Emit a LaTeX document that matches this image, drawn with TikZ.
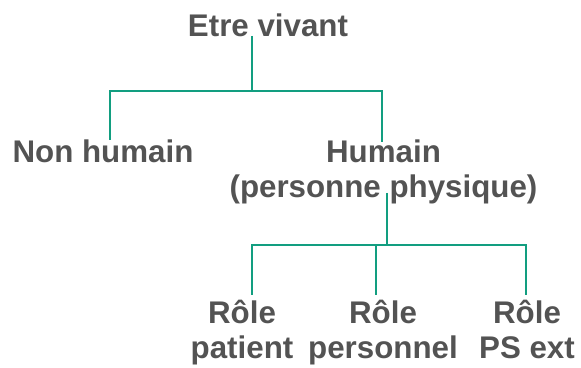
\documentclass[tikz,border=0pt]{standalone}
\usepackage{fontspec}
\setmainfont{Liberation Sans}
\definecolor{txtgray}{RGB}{83,83,83}
\definecolor{linegreen}{RGB}{18,158,128}
\begin{document}
\begin{tikzpicture}[x=1pt,y=1pt,
  lbl/.style={inner sep=0pt, anchor=base, align=center, text=txtgray,
    font=\fontsize{31.3}{35}\selectfont\bfseries},
  conn/.style={draw=linegreen, line width=1.9pt}]
\useasboundingbox (0,0) rectangle (581,367);
% nodes (base = baseline of the last line)
\node[lbl] (ev) at (268,330) {Etre vivant};
\node[lbl] (nh) at (103,204) {Non humain};
\node[lbl] (hu) at (383.5,169) {Humain\\(personne physique)};
\node[lbl] (rp) at (242,9) {Rôle\\patient};
\node[lbl] (rn) at (383,9) {Rôle\\personnel};
\node[lbl] (rx) at (527,9) {Rôle\\PS ext};
% connector end points
\coordinate (evs) at (251.7,331);
\coordinate (j1) at (251.7,276.3);
\coordinate (nht) at (110,227);
\coordinate (hut) at (382,225);
\coordinate (hus) at (387,174);
\coordinate (j2) at (387,122);
\coordinate (rpt) at (252,72);
\coordinate (rnt) at (376,72);
\coordinate (rxt) at (526,72);
% connectors
\draw[conn] (evs) -- (j1);
\draw[conn] (nht) -- (nht |- j1) -- (hut |- j1) -- (hut);
\draw[conn] (hus) -- (j2);
\draw[conn] (rpt) -- (rpt |- j2) -- (rxt |- j2) -- (rxt);
\draw[conn] (rnt) -- (rnt |- j2);
\end{tikzpicture}
\end{document}
